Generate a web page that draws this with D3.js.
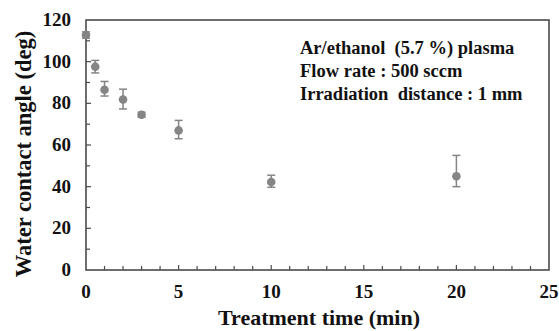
<!DOCTYPE html>
<html>
<head>
<meta charset="utf-8">
<script src="https://cdn.jsdelivr.net/npm/d3@7"></script>
<style>
body { margin: 0; background: #fff; }
text { font-family: "Times New Roman", "Liberation Serif", serif; font-weight: bold; fill: #111; }
</style>
</head>
<body>
<div id="chart"></div>
<script>
// treatment time (min) and water contact angle (deg)
var times = [0, 0.5, 1, 2, 3, 5, 10, 20];
var angles = [112.8, 97.6, 86.5, 81.8, 74.5, 67, 42.2, 45];
var errUp = [1.5, 3, 4, 5, 1.2, 4.8, 3.3, 10];
var errDown = [1.5, 3, 3, 4.5, 1.2, 4, 2.5, 5];
var xTicks = [0, 5, 10, 15, 20, 25];
var yTicks = [0, 20, 40, 60, 80, 100, 120];
var notes = ["Ar/ethanol  (5.7 %) plasma", "Flow rate : 500 sccm", "Irradiation  distance : 1 mm"];

var width = 559, height = 331;
var padding = {left: 86, top: 20, right: 10, bottom: 61};

var svg = d3.select("#chart").append("svg")
	.attr("width", width)
	.attr("height", height);

var xScale = d3.scaleLinear()
	.domain([0, 25])
	.range([padding.left, width - padding.right]);
var yScale = d3.scaleLinear()
	.domain([0, 120])
	.range([height - padding.bottom, padding.top]);

var axisColor = "#4a4a4a";

// frame
svg.append("rect")
	.attr("x", xScale(0))
	.attr("y", yScale(120))
	.attr("width", xScale(25) - xScale(0))
	.attr("height", yScale(0) - yScale(120))
	.attr("fill", "none")
	.attr("stroke", axisColor)
	.attr("stroke-width", 1.6);

// x ticks, inward
var gx = svg.append("g");
d3.range(1, 25).forEach(function(v)
{
	var major = v % 5 == 0;
	gx.append("line")
		.attr("x1", xScale(v)).attr("x2", xScale(v))
		.attr("y1", yScale(0)).attr("y2", yScale(0) - (major ? 5 : 4))
		.attr("stroke", axisColor).attr("stroke-width", 1.2);
});
gx.selectAll("text").data(xTicks).enter().append("text")
	.attr("x", function(d){ return xScale(d); })
	.attr("y", yScale(0) + 28)
	.attr("text-anchor", "middle")
	.attr("font-size", 19)
	.text(function(d){ return d; });

// y ticks, inward
var gy = svg.append("g");
d3.range(10, 120, 10).forEach(function(v)
{
	var major = v % 20 == 0;
	gy.append("line")
		.attr("x1", xScale(0)).attr("x2", xScale(0) + (major ? 5 : 4))
		.attr("y1", yScale(v)).attr("y2", yScale(v))
		.attr("stroke", axisColor).attr("stroke-width", 1.2);
});
gy.selectAll("text").data(yTicks).enter().append("text")
	.attr("x", xScale(0) - 15)
	.attr("y", function(d){ return yScale(d) + 6; })
	.attr("text-anchor", "end")
	.attr("font-size", 19)
	.text(function(d){ return d; });

// axis titles
svg.append("text")
	.attr("x", 319)
	.attr("y", 325)
	.attr("text-anchor", "middle")
	.attr("font-size", 22)
	.text("Treatment time (min)");
svg.append("text")
	.attr("transform", "translate(31," + 154 + ") rotate(-90)")
	.attr("text-anchor", "middle")
	.attr("font-size", 22.5)
	.text("Water contact angle (deg)");

// error bars and markers
var pts = svg.append("g");
var markColor = "#858585";
times.forEach(function(t, i)
{
	var x = xScale(t);
	var yt = yScale(angles[i] + errUp[i]), yb = yScale(angles[i] - errDown[i]);
	pts.append("line")
		.attr("x1", x).attr("x2", x).attr("y1", yt).attr("y2", yb)
		.attr("stroke", markColor).attr("stroke-width", 1.5);
	[yt, yb].forEach(function(y)
	{
		pts.append("line")
			.attr("x1", x - 4).attr("x2", x + 4).attr("y1", y).attr("y2", y)
			.attr("stroke", markColor).attr("stroke-width", 1.5);
	});
	pts.append("circle")
		.attr("cx", x).attr("cy", yScale(angles[i]))
		.attr("r", 4.3)
		.attr("fill", markColor);
});

// annotation
svg.append("g").selectAll("text").data(notes).enter().append("text")
	.attr("x", 300)
	.attr("y", function(d, i){ return 54 + i * 23; })
	.attr("font-size", 18.5)
	.style("white-space", "pre")
	.text(function(d){ return d; });
</script>
</body>
</html>
